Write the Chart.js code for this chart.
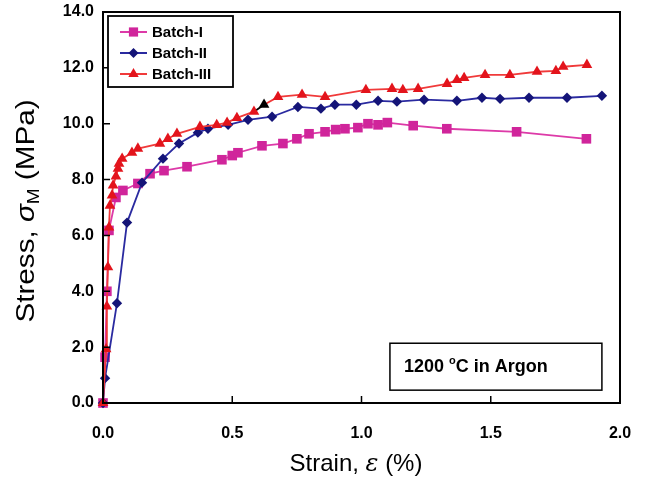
<!DOCTYPE html>
<html>
<head>
<meta charset="utf-8">
<script src="https://cdn.jsdelivr.net/npm/chart.js@4/dist/chart.umd.min.js"></script>
<style>
html,body{margin:0;padding:0;background:#fff;}
#wrap{position:relative;width:648px;height:479px;}
</style>
</head>
<body>
<div id="wrap"><canvas id="c" width="648" height="479"></canvas></div>
<script>
// ---- data ----
const labelsSeries = ['Batch-I', 'Batch-II', 'Batch-III'];
const xTicks = [0, 0.5, 1.0, 1.5, 2.0];
const yTicks = [0, 2, 4, 6, 8, 10, 12, 14];

const strain1 = [0, 0.008, 0.015, 0.023, 0.05, 0.077, 0.135, 0.182, 0.236, 0.325, 0.46, 0.50, 0.522, 0.615, 0.696, 0.75, 0.797, 0.859, 0.90, 0.936, 0.986, 1.025, 1.064, 1.10, 1.20, 1.33, 1.60, 1.87];
const stress1 = [0, 1.64, 4.0, 6.18, 7.36, 7.61, 7.86, 8.21, 8.32, 8.46, 8.71, 8.86, 8.96, 9.21, 9.29, 9.46, 9.64, 9.71, 9.79, 9.82, 9.86, 10.0, 9.96, 10.04, 9.93, 9.82, 9.71, 9.46];

const strain2 = [0, 0.008, 0.054, 0.093, 0.151, 0.232, 0.294, 0.367, 0.406, 0.484, 0.561, 0.654, 0.754, 0.843, 0.897, 0.98, 1.064, 1.137, 1.242, 1.369, 1.466, 1.536, 1.648, 1.795, 1.93];
const stress2 = [0, 0.89, 3.57, 6.46, 7.89, 8.75, 9.29, 9.68, 9.82, 9.96, 10.14, 10.25, 10.6, 10.54, 10.68, 10.68, 10.82, 10.79, 10.86, 10.82, 10.93, 10.89, 10.93, 10.93, 11.0];

const strain3 = [0, 0.012, 0.015, 0.019, 0.023, 0.027, 0.035, 0.039, 0.05, 0.058, 0.062, 0.074, 0.112, 0.135, 0.22, 0.251, 0.286, 0.375, 0.44, 0.48, 0.518, 0.584, 0.623, 0.677, 0.77, 0.859, 1.017, 1.118, 1.16, 1.219, 1.331, 1.369, 1.397, 1.478, 1.574, 1.679, 1.752, 1.78, 1.872];
const stress3 = [0, 1.93, 3.46, 4.86, 6.29, 7.07, 7.43, 7.79, 8.11, 8.39, 8.57, 8.75, 8.96, 9.11, 9.29, 9.46, 9.64, 9.89, 9.96, 10.04, 10.21, 10.43, 10.68, 10.96, 11.04, 10.96, 11.21, 11.25, 11.21, 11.25, 11.43, 11.57, 11.64, 11.75, 11.75, 11.86, 11.89, 12.04, 12.11];
const blackPointIndex3 = 22; // the one black triangle in Batch-III

function pts(xs, ys){ return xs.map((x,i)=>({x:x, y:ys[i]})); }

const FONT = '"Liberation Sans", Arial, Helvetica, sans-serif';
const C1 = {fill:'#d0259b', line:'#dd3aa8'};
const C2 = {fill:'#141478', line:'#2a2aa0'};
const C3 = {fill:'#e3141c', line:'#f03a3a'};

// frame, inward ticks, legend, annotation, axis titles
const decor = {
  id:'decor',
  afterDraw(chart){
    const ctx = chart.ctx, a = chart.chartArea;
    const xs = chart.scales.x, ys = chart.scales.y;
    ctx.save();
    ctx.strokeStyle = '#000';
    ctx.lineWidth = 2;
    ctx.strokeRect(a.left, a.top, a.right - a.left, a.bottom - a.top);
    // inward ticks
    ctx.lineWidth = 1.5;
    ctx.beginPath();
    xTicks.forEach(v=>{ if(v>0 && v<2){ const px = xs.getPixelForValue(v); ctx.moveTo(px, a.bottom); ctx.lineTo(px, a.bottom-7);} });
    yTicks.forEach(v=>{ if(v>0 && v<14){ const py = ys.getPixelForValue(v); ctx.moveTo(a.left, py); ctx.lineTo(a.left+7, py);} });
    ctx.stroke();

    // legend
    const lx = a.left + 5, ly = a.top + 4, lw = 125, lh = 71;
    ctx.fillStyle = '#fff';
    ctx.fillRect(lx, ly, lw, lh);
    ctx.lineWidth = 1.8;
    ctx.strokeStyle = '#000';
    ctx.strokeRect(lx, ly, lw, lh);
    const styles = [C1, C2, C3];
    const shapes = ['rect', 'rectRot', 'triangle'];
    ctx.font = 'bold 15px ' + FONT;
    ctx.textBaseline = 'middle';
    for(let i=0;i<3;i++){
      const ry = ly + 16 + i*21;
      ctx.strokeStyle = styles[i].line;
      ctx.lineWidth = 2;
      ctx.beginPath(); ctx.moveTo(lx+12, ry); ctx.lineTo(lx+39, ry); ctx.stroke();
      drawShape(ctx, shapes[i], lx+25.5, ry, styles[i].fill);
      ctx.fillStyle = '#000';
      ctx.fillText(labelsSeries[i], lx+44, ry+1);
    }

    // annotation box
    const bx = xs.getPixelForValue(1.11), bx2 = xs.getPixelForValue(1.93);
    const by = ys.getPixelForValue(2.14), by2 = ys.getPixelForValue(0.46);
    ctx.lineWidth = 1.5;
    ctx.strokeStyle = '#000';
    ctx.strokeRect(bx, by, bx2-bx, by2-by);
    ctx.fillStyle = '#000';
    ctx.textBaseline = 'alphabetic';
    let tx = bx + 14, tb = by + 29;
    ctx.font = 'bold 18px ' + FONT;
    ctx.fillText('1200 ', tx, tb); tx += ctx.measureText('1200 ').width;
    ctx.font = 'bold 11px ' + FONT;
    ctx.fillText('o', tx, tb - 8); tx += ctx.measureText('o').width;
    ctx.font = 'bold 18px ' + FONT;
    ctx.fillText('C in Argon', tx, tb);

    // x title: Strain, ε (%)
    const p1 = 'Strain, ', p3 = ' (%)';
    ctx.font = '24px ' + FONT; const w1 = ctx.measureText(p1).width, w3 = ctx.measureText(p3).width;
    ctx.font = 'italic 24px "DejaVu Serif", serif'; const w2 = ctx.measureText('ε').width;
    let sx = 356 - (w1+w2+w3)/2;
    const sy = 471;
    ctx.font = '24px ' + FONT; ctx.fillText(p1, sx, sy); sx += w1;
    ctx.font = 'italic 24px "DejaVu Serif", serif'; ctx.fillText('ε', sx, sy); sx += w2;
    ctx.font = '24px ' + FONT; ctx.fillText(p3, sx, sy);

    // y title: Stress, σM (MPa)  (rotated)
    ctx.save();
    const cy = 211;
    ctx.translate(34, cy);
    ctx.rotate(-Math.PI/2);
    const q1 = 'Stress, ', q2 = 'σ', q3 = 'M', q4 = ' (MPa)';
    ctx.font = '25px ' + FONT; const v1 = ctx.measureText(q1).width, v4 = ctx.measureText(q4).width;
    ctx.font = 'italic 25px ' + FONT; const v2 = ctx.measureText(q2).width;
    ctx.font = '16px ' + FONT; const v3 = ctx.measureText(q3).width;
    const total = v1+v2+v3+v4;
    const stretch = 223/total;
    ctx.scale(stretch, 1);
    let qx = -total/2;
    ctx.font = '25px ' + FONT; ctx.fillText(q1, qx, 0); qx += v1;
    ctx.font = 'italic 25px ' + FONT; ctx.fillText(q2, qx, 0); qx += v2;
    ctx.font = '16px ' + FONT; ctx.fillText(q3, qx, 5); qx += v3;
    ctx.font = '25px ' + FONT; ctx.fillText(q4, qx, 0);
    ctx.restore();

    ctx.restore();
  }
};

function drawShape(ctx, shape, x, y, color){
  ctx.save();
  ctx.fillStyle = color;
  ctx.beginPath();
  if(shape==='rect'){ const s=4.6; ctx.rect(x-s, y-s, 2*s, 2*s); }
  else if(shape==='rectRot'){ const r=5; ctx.moveTo(x, y-r); ctx.lineTo(x+r, y); ctx.lineTo(x, y+r); ctx.lineTo(x-r, y); ctx.closePath(); }
  else { const r=6; ctx.moveTo(x, y-r); ctx.lineTo(x+r*0.866, y+r*0.5); ctx.lineTo(x-r*0.866, y+r*0.5); ctx.closePath(); }
  ctx.fill();
  ctx.restore();
}

const ds3colors = strain3.map((_,i)=> i===blackPointIndex3 ? '#000' : C3.fill);

new Chart(document.getElementById('c'), {
  type: 'scatter',
  data: {
    datasets: [
      { label: labelsSeries[0], data: pts(strain1, stress1), showLine:true, borderColor:C1.line, borderWidth:1.8,
        pointStyle:'rect', pointRadius:6.8, pointBackgroundColor:C1.fill, pointBorderColor:C1.fill, pointBorderWidth:0, order:3, clip:false },
      { label: labelsSeries[1], data: pts(strain2, stress2), showLine:true, borderColor:C2.line, borderWidth:1.8,
        pointStyle:'rectRot', pointRadius:5.2, pointBackgroundColor:C2.fill, pointBorderColor:C2.fill, pointBorderWidth:0, order:2, clip:false },
      { label: labelsSeries[2], data: pts(strain3, stress3), showLine:true, borderColor:C3.line, borderWidth:1.8,
        pointStyle:'triangle', pointRadius:6.2, pointBackgroundColor:ds3colors, pointBorderColor:ds3colors, pointBorderWidth:0, order:1, clip:false,
        segment:{ borderColor: c => c.p1DataIndex === blackPointIndex3 ? '#000' : undefined } }
    ]
  },
  options: {
    responsive:false,
    animation:false,
    events:[],
    layout:{ padding:{ left:0, right:28, top:12, bottom:0 } },
    plugins:{ legend:{display:false}, tooltip:{enabled:false}, title:{display:false} },
    scales:{
      x:{ type:'linear', min:0, max:2, 
          afterFit(s){ s.height = 76; s.paddingLeft = 0; s.paddingRight = 0; },
          afterBuildTicks(s){ s.ticks = xTicks.map(v=>({value:v})); },
          grid:{display:false, drawTicks:false}, border:{display:false},
          ticks:{ padding:21, color:'#000', font:{family:FONT, size:16, weight:'bold'}, maxRotation:0, callback:v=>Number(v).toFixed(1) } },
      y:{ type:'linear', min:0, max:14,
          afterFit(s){ s.width = 103; s.paddingTop = 0; s.paddingBottom = 0; },
          afterBuildTicks(s){ s.ticks = yTicks.map(v=>({value:v})); },
          grid:{display:false, drawTicks:false}, border:{display:false},
          ticks:{ padding:9, color:'#000', font:{family:FONT, size:16, weight:'bold'}, callback:v=>Number(v).toFixed(1) } }
    }
  },
  plugins:[decor]
});
</script>
</body>
</html>
